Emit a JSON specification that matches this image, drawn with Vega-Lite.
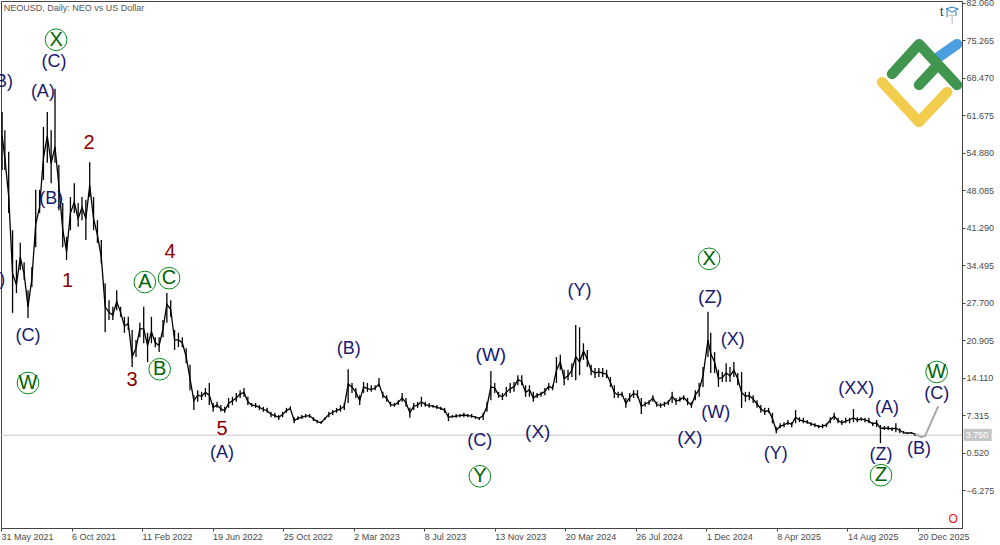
{
  "$schema": "https://vega.github.io/schema/vega-lite/v6.json",
  "width": 961,
  "height": 527,
  "autosize": "none",
  "padding": {"left": 1, "top": 1, "right": 38, "bottom": 17},
  "background": "white",
  "datasets": {
    "prices": [
      {"date":"2021-06-02","high":62.3,"low":51.8,"close":58},
      {"date":"2021-06-07","high":59,"low":51.8,"close":54},
      {"date":"2021-06-14","high":55.1,"low":44,"close":47},
      {"date":"2021-06-21","high":40.9,"low":25.9,"close":33},
      {"date":"2021-06-28","high":35.5,"low":29.5,"close":31},
      {"date":"2021-07-05","high":38.6,"low":33.7,"close":36},
      {"date":"2021-07-12","high":35.1,"low":31.9,"close":33},
      {"date":"2021-07-19","high":30,"low":25,"close":27},
      {"date":"2021-07-26","high":34.2,"low":30.6,"close":32},
      {"date":"2021-08-02","high":48.2,"low":37.8,"close":42},
      {"date":"2021-08-09","high":48.2,"low":44,"close":45},
      {"date":"2021-08-16","high":59.6,"low":50,"close":54},
      {"date":"2021-08-23","high":62.3,"low":53.1,"close":58},
      {"date":"2021-08-30","high":59,"low":49.4,"close":53},
      {"date":"2021-09-06","high":66.5,"low":53.1,"close":56},
      {"date":"2021-09-13","high":52.7,"low":44.5,"close":49},
      {"date":"2021-09-20","high":45.8,"low":37.8,"close":41},
      {"date":"2021-09-27","high":39.7,"low":35.5,"close":37},
      {"date":"2021-10-04","high":46.9,"low":40.9,"close":44},
      {"date":"2021-10-11","high":49.4,"low":44,"close":46},
      {"date":"2021-10-18","high":45.8,"low":41.5,"close":43},
      {"date":"2021-10-25","high":46.9,"low":42.7,"close":45},
      {"date":"2021-11-01","high":46.4,"low":39.1,"close":43},
      {"date":"2021-11-08","high":53.2,"low":46.9,"close":49},
      {"date":"2021-11-15","high":46.9,"low":40.9,"close":43},
      {"date":"2021-11-22","high":42.7,"low":38.6,"close":40},
      {"date":"2021-11-29","high":39.1,"low":34.9,"close":36},
      {"date":"2021-12-06","high":31.3,"low":22.4,"close":27},
      {"date":"2021-12-13","high":28.2,"low":24.6,"close":26},
      {"date":"2021-12-20","high":27,"low":24.6,"close":25.5},
      {"date":"2021-12-27","high":30,"low":26.4,"close":28},
      {"date":"2022-01-03","high":27,"low":25.2,"close":26},
      {"date":"2022-01-10","high":25.2,"low":22.3,"close":23.5},
      {"date":"2022-01-17","high":25.2,"low":22.8,"close":24},
      {"date":"2022-01-24","high":22.8,"low":16.1,"close":18},
      {"date":"2022-01-31","high":21,"low":17.9,"close":19.5},
      {"date":"2022-02-07","high":24.1,"low":21.5,"close":23},
      {"date":"2022-02-14","high":27,"low":20.4,"close":23},
      {"date":"2022-02-21","high":22.3,"low":17,"close":20},
      {"date":"2022-02-28","high":25.2,"low":20.4,"close":22.5},
      {"date":"2022-03-07","high":21.5,"low":19.7,"close":20.5},
      {"date":"2022-03-14","high":21.5,"low":18.8,"close":20},
      {"date":"2022-03-21","high":24.6,"low":21.5,"close":23},
      {"date":"2022-03-28","high":29.5,"low":24.1,"close":27.5},
      {"date":"2022-04-04","high":28.2,"low":25.2,"close":26.5},
      {"date":"2022-04-11","high":22.8,"low":19.2,"close":21},
      {"date":"2022-04-18","high":22.3,"low":19.7,"close":21},
      {"date":"2022-04-25","high":21.5,"low":19.7,"close":20.5},
      {"date":"2022-05-02","high":19.5,"low":16.8,"close":18},
      {"date":"2022-05-09","high":16.5,"low":11.9,"close":14},
      {"date":"2022-05-16","high":11,"low":8.3,"close":10},
      {"date":"2022-05-23","high":11.9,"low":9.8,"close":11},
      {"date":"2022-05-30","high":11.6,"low":10.1,"close":10.8},
      {"date":"2022-06-06","high":12.3,"low":10.7,"close":11.5},
      {"date":"2022-06-13","high":13.2,"low":9.2,"close":11},
      {"date":"2022-06-20","high":9.6,"low":8,"close":8.8},
      {"date":"2022-06-27","high":9.8,"low":8.7,"close":9.2},
      {"date":"2022-07-04","high":9.2,"low":8,"close":8.5},
      {"date":"2022-07-11","high":8.9,"low":7.8,"close":8.2},
      {"date":"2022-07-18","high":10.5,"low":8.7,"close":9.5},
      {"date":"2022-07-25","high":10.7,"low":9.2,"close":10},
      {"date":"2022-08-01","high":11.4,"low":9.8,"close":10.5},
      {"date":"2022-08-08","high":11.9,"low":10.5,"close":11.2},
      {"date":"2022-08-15","high":12.3,"low":10.7,"close":11.5},
      {"date":"2022-08-22","high":10.7,"low":9.2,"close":9.8},
      {"date":"2022-08-29","high":9.6,"low":8.9,"close":9.2},
      {"date":"2022-09-05","high":9.6,"low":8.7,"close":9.1},
      {"date":"2022-09-12","high":9.2,"low":8.3,"close":8.8},
      {"date":"2022-09-19","high":8.9,"low":8,"close":8.4},
      {"date":"2022-09-26","high":8.7,"low":7.8,"close":8.2},
      {"date":"2022-10-03","high":8,"low":7,"close":7.5},
      {"date":"2022-10-10","high":7.8,"low":6.9,"close":7.3},
      {"date":"2022-10-17","high":7.4,"low":6.5,"close":7},
      {"date":"2022-10-24","high":8,"low":7,"close":7.5},
      {"date":"2022-10-31","high":8.7,"low":7.8,"close":8.2},
      {"date":"2022-11-07","high":9,"low":8.3,"close":8.6},
      {"date":"2022-11-14","high":7,"low":5.9,"close":6.4},
      {"date":"2022-11-21","high":7.2,"low":6.5,"close":6.8},
      {"date":"2022-11-28","high":7.4,"low":6.7,"close":7},
      {"date":"2022-12-05","high":7.6,"low":6.9,"close":7.2},
      {"date":"2022-12-12","high":7.6,"low":6.9,"close":7.3},
      {"date":"2022-12-19","high":7,"low":6.3,"close":6.7},
      {"date":"2022-12-26","high":6.5,"low":5.9,"close":6.2},
      {"date":"2023-01-02","high":6.3,"low":5.8,"close":6},
      {"date":"2023-01-09","high":7,"low":6.5,"close":6.8},
      {"date":"2023-01-16","high":8,"low":7,"close":7.5},
      {"date":"2023-01-23","high":8.3,"low":7.4,"close":7.9},
      {"date":"2023-01-30","high":8.7,"low":7.8,"close":8.2},
      {"date":"2023-02-06","high":9.2,"low":8,"close":8.5},
      {"date":"2023-02-13","high":9.6,"low":8.3,"close":9},
      {"date":"2023-02-20","high":15.7,"low":9.6,"close":13},
      {"date":"2023-02-27","high":13.2,"low":11.4,"close":12.5},
      {"date":"2023-03-06","high":12.3,"low":10.5,"close":11.5},
      {"date":"2023-03-13","high":11,"low":9.2,"close":10},
      {"date":"2023-03-20","high":13.4,"low":11.4,"close":12.5},
      {"date":"2023-03-27","high":13.2,"low":11.6,"close":12.2},
      {"date":"2023-04-03","high":12.8,"low":11.6,"close":12},
      {"date":"2023-04-10","high":12.8,"low":11.9,"close":12.3},
      {"date":"2023-04-17","high":14.1,"low":12.5,"close":13},
      {"date":"2023-04-24","high":11.6,"low":10.5,"close":11},
      {"date":"2023-05-01","high":11,"low":9.8,"close":10.4},
      {"date":"2023-05-08","high":9.8,"low":8.9,"close":9.3},
      {"date":"2023-05-15","high":9.6,"low":8.9,"close":9.2},
      {"date":"2023-05-22","high":10.1,"low":9.2,"close":9.7},
      {"date":"2023-05-29","high":11.4,"low":9.8,"close":10.5},
      {"date":"2023-06-05","high":10.5,"low":8.9,"close":9.6},
      {"date":"2023-06-12","high":8.7,"low":6.9,"close":7.8},
      {"date":"2023-06-19","high":9.6,"low":8.3,"close":9},
      {"date":"2023-06-26","high":9.8,"low":8.7,"close":9.2},
      {"date":"2023-07-03","high":10.7,"low":8.9,"close":9.8},
      {"date":"2023-07-10","high":9.8,"low":8.9,"close":9.3},
      {"date":"2023-07-17","high":9.6,"low":8.7,"close":9.1},
      {"date":"2023-07-24","high":9.2,"low":8.7,"close":9},
      {"date":"2023-07-31","high":9.2,"low":8.5,"close":8.8},
      {"date":"2023-08-07","high":8.9,"low":8.3,"close":8.6},
      {"date":"2023-08-14","high":8.7,"low":7.8,"close":8.3},
      {"date":"2023-08-21","high":7.8,"low":6.3,"close":7},
      {"date":"2023-08-28","high":7.4,"low":6.9,"close":7.1},
      {"date":"2023-09-04","high":7.6,"low":6.9,"close":7.2},
      {"date":"2023-09-11","high":7.6,"low":7,"close":7.3},
      {"date":"2023-09-18","high":7.8,"low":7,"close":7.4},
      {"date":"2023-09-25","high":7.6,"low":7,"close":7.3},
      {"date":"2023-10-02","high":7.6,"low":6.9,"close":7.2},
      {"date":"2023-10-09","high":7.2,"low":6.7,"close":7},
      {"date":"2023-10-16","high":7,"low":6.5,"close":6.8},
      {"date":"2023-10-23","high":7.8,"low":6.5,"close":7.3},
      {"date":"2023-10-30","high":9.8,"low":8,"close":9},
      {"date":"2023-11-06","high":15.4,"low":10.1,"close":12.5},
      {"date":"2023-11-13","high":13.2,"low":11.4,"close":12.3},
      {"date":"2023-11-20","high":11.6,"low":10.5,"close":11},
      {"date":"2023-11-27","high":11.4,"low":10.1,"close":10.7},
      {"date":"2023-12-04","high":12.5,"low":10.7,"close":11.5},
      {"date":"2023-12-11","high":13.2,"low":11.4,"close":12.2},
      {"date":"2023-12-18","high":13.4,"low":11.6,"close":12.5},
      {"date":"2023-12-25","high":14.6,"low":12.8,"close":13.8},
      {"date":"2024-01-01","high":14.6,"low":12.8,"close":13.5},
      {"date":"2024-01-08","high":12.8,"low":10.7,"close":11.5},
      {"date":"2024-01-15","high":12.8,"low":10.7,"close":12},
      {"date":"2024-01-22","high":11.6,"low":9.8,"close":10.5},
      {"date":"2024-01-29","high":11.4,"low":10.5,"close":11},
      {"date":"2024-02-05","high":11.6,"low":10.7,"close":11.2},
      {"date":"2024-02-12","high":12.3,"low":11,"close":11.7},
      {"date":"2024-02-19","high":13.2,"low":11.9,"close":12.6},
      {"date":"2024-02-26","high":12.8,"low":11.9,"close":12.3},
      {"date":"2024-03-04","high":17.9,"low":13.2,"close":15.5},
      {"date":"2024-03-11","high":18.3,"low":15.6,"close":17},
      {"date":"2024-03-18","high":15.6,"low":12.8,"close":14},
      {"date":"2024-03-25","high":15.6,"low":13.7,"close":14.5},
      {"date":"2024-04-01","high":16.8,"low":14.3,"close":15.5},
      {"date":"2024-04-08","high":23.7,"low":13.7,"close":18},
      {"date":"2024-04-15","high":23.3,"low":14.6,"close":17},
      {"date":"2024-04-22","high":20.4,"low":17.4,"close":19},
      {"date":"2024-04-29","high":19.2,"low":16.1,"close":17.5},
      {"date":"2024-05-06","high":16.5,"low":14.6,"close":15.5},
      {"date":"2024-05-13","high":15.9,"low":14.1,"close":15},
      {"date":"2024-05-20","high":15.9,"low":14.3,"close":15.2},
      {"date":"2024-05-27","high":15.9,"low":14.3,"close":15},
      {"date":"2024-06-03","high":15.6,"low":14.1,"close":14.8},
      {"date":"2024-06-10","high":14.3,"low":12.5,"close":13.3},
      {"date":"2024-06-17","high":12.8,"low":10.5,"close":11.5},
      {"date":"2024-06-24","high":11.6,"low":10.5,"close":11},
      {"date":"2024-07-01","high":11.6,"low":10.7,"close":11.2},
      {"date":"2024-07-08","high":10.5,"low":8.7,"close":9.5},
      {"date":"2024-07-15","high":11.4,"low":9.8,"close":10.6},
      {"date":"2024-07-22","high":11.9,"low":10.5,"close":11.3},
      {"date":"2024-07-29","high":11.9,"low":10.5,"close":11},
      {"date":"2024-08-05","high":10.5,"low":7.6,"close":9},
      {"date":"2024-08-12","high":9.8,"low":8.9,"close":9.4},
      {"date":"2024-08-19","high":10.1,"low":9.2,"close":9.7},
      {"date":"2024-08-26","high":11,"low":9.8,"close":10.5},
      {"date":"2024-09-02","high":9.8,"low":8.9,"close":9.3},
      {"date":"2024-09-09","high":9.6,"low":8.7,"close":9.1},
      {"date":"2024-09-16","high":9.8,"low":8.9,"close":9.4},
      {"date":"2024-09-23","high":10.1,"low":9.2,"close":9.7},
      {"date":"2024-09-30","high":11.6,"low":9.6,"close":10.8},
      {"date":"2024-10-07","high":10.5,"low":9.2,"close":9.9},
      {"date":"2024-10-14","high":10.7,"low":9.8,"close":10.2},
      {"date":"2024-10-21","high":11,"low":10.1,"close":10.6},
      {"date":"2024-10-28","high":10.5,"low":9.2,"close":9.8},
      {"date":"2024-11-04","high":9.8,"low":8.7,"close":9.2},
      {"date":"2024-11-11","high":11.9,"low":10.1,"close":11},
      {"date":"2024-11-18","high":13.2,"low":10.7,"close":12},
      {"date":"2024-11-25","high":16.1,"low":12.5,"close":14.5},
      {"date":"2024-12-04","high":26.1,"low":17.9,"close":21},
      {"date":"2024-12-09","high":22.3,"low":15,"close":18.5},
      {"date":"2024-12-16","high":18.8,"low":15,"close":17},
      {"date":"2024-12-23","high":15.6,"low":12.5,"close":14},
      {"date":"2024-12-30","high":15.2,"low":13.4,"close":14.2},
      {"date":"2025-01-06","high":16.8,"low":13.4,"close":15},
      {"date":"2025-01-13","high":16.1,"low":13.4,"close":14.5},
      {"date":"2025-01-20","high":17,"low":14.3,"close":15.5},
      {"date":"2025-01-27","high":15,"low":12.8,"close":14},
      {"date":"2025-02-03","high":15.2,"low":8.7,"close":11.5},
      {"date":"2025-02-10","high":11.6,"low":9.8,"close":10.8},
      {"date":"2025-02-17","high":11.6,"low":10.1,"close":10.9},
      {"date":"2025-02-24","high":11,"low":9.6,"close":10.3},
      {"date":"2025-03-03","high":10.1,"low":8.7,"close":9.4},
      {"date":"2025-03-10","high":9.2,"low":7.8,"close":8.5},
      {"date":"2025-03-17","high":8.7,"low":7.4,"close":8},
      {"date":"2025-03-24","high":8.7,"low":7.8,"close":8.2},
      {"date":"2025-03-31","high":7.8,"low":5.9,"close":6.8},
      {"date":"2025-04-07","high":5.2,"low":4.1,"close":4.6},
      {"date":"2025-04-14","high":5.9,"low":5,"close":5.4},
      {"date":"2025-04-21","high":6.1,"low":5.2,"close":5.6},
      {"date":"2025-04-28","high":6.5,"low":5.6,"close":6},
      {"date":"2025-05-05","high":6.1,"low":5.2,"close":5.7},
      {"date":"2025-05-12","high":8.3,"low":5.9,"close":7},
      {"date":"2025-05-19","high":7,"low":6.1,"close":6.5},
      {"date":"2025-05-26","high":6.9,"low":5.9,"close":6.3},
      {"date":"2025-06-02","high":6.5,"low":5.8,"close":6.1},
      {"date":"2025-06-09","high":6.1,"low":5.4,"close":5.8},
      {"date":"2025-06-16","high":5.9,"low":5.2,"close":5.6},
      {"date":"2025-06-23","high":5.6,"low":5,"close":5.3},
      {"date":"2025-06-30","high":5.8,"low":5,"close":5.4},
      {"date":"2025-07-07","high":5.9,"low":5.2,"close":5.6},
      {"date":"2025-07-14","high":7,"low":5.9,"close":6.5},
      {"date":"2025-07-21","high":7.8,"low":6.5,"close":7.2},
      {"date":"2025-07-28","high":6.9,"low":5.9,"close":6.4},
      {"date":"2025-08-04","high":6.5,"low":5.6,"close":6},
      {"date":"2025-08-11","high":6.9,"low":5.9,"close":6.3},
      {"date":"2025-08-18","high":6.9,"low":5.9,"close":6.5},
      {"date":"2025-08-25","high":8.5,"low":6.1,"close":6.9},
      {"date":"2025-09-01","high":7,"low":6.1,"close":6.5},
      {"date":"2025-09-08","high":7,"low":6.3,"close":6.7},
      {"date":"2025-09-15","high":6.9,"low":6.1,"close":6.5},
      {"date":"2025-09-22","high":6.9,"low":5.9,"close":6.3},
      {"date":"2025-09-29","high":6.1,"low":5.4,"close":5.8},
      {"date":"2025-10-06","high":6.5,"low":5.2,"close":6},
      {"date":"2025-10-13","high":5.6,"low":2.3,"close":5},
      {"date":"2025-10-20","high":5.4,"low":4.7,"close":5},
      {"date":"2025-10-27","high":5.4,"low":4.7,"close":5},
      {"date":"2025-11-03","high":5.2,"low":4.5,"close":4.9},
      {"date":"2025-11-10","high":5.9,"low":4.3,"close":5},
      {"date":"2025-11-17","high":5,"low":4.1,"close":4.6},
      {"date":"2025-11-24","high":4.5,"low":4,"close":4.2},
      {"date":"2025-12-01","high":4.3,"low":4,"close":4.1},
      {"date":"2025-12-08","high":4.3,"low":4,"close":4.2},
      {"date":"2025-12-15","high":4.1,"low":3.6,"close":3.9}
    ],
    "forecast": [
      {"date":"2025-12-15","price":4},
      {"date":"2025-12-26","price":3.4},
      {"date":"2026-01-02","price":3.6},
      {"date":"2026-01-26","price":9}
    ],
    "waves": [
      {"date":"2021-09-04","price":71.4,"label":"(C)","degree":"minor"},
      {"date":"2021-08-15","price":65.9,"label":"(A)","degree":"minor"},
      {"date":"2021-05-31","price":67.7,"label":"(B)","degree":"minor"},
      {"date":"2021-05-17","price":31.9,"label":"(A)","degree":"minor"},
      {"date":"2021-08-30","price":46.5,"label":"(B)","degree":"minor"},
      {"date":"2021-07-19","price":21.7,"label":"(C)","degree":"minor"},
      {"date":"2022-07-06","price":0.5,"label":"(A)","degree":"minor"},
      {"date":"2023-02-21","price":19.4,"label":"(B)","degree":"minor"},
      {"date":"2023-10-17","price":2.7,"label":"(C)","degree":"minor"},
      {"date":"2023-11-06","price":18.3,"label":"(W)","degree":"major"},
      {"date":"2024-01-30","price":4.3,"label":"(X)","degree":"major"},
      {"date":"2024-04-15","price":29.9,"label":"(Y)","degree":"minor"},
      {"date":"2024-11-01","price":3.2,"label":"(X)","degree":"major"},
      {"date":"2024-12-08","price":28.8,"label":"(Z)","degree":"major"},
      {"date":"2024-12-18","price":7.8,"label":"(W)","degree":"minor"},
      {"date":"2025-01-18","price":21,"label":"(X)","degree":"minor"},
      {"date":"2025-04-06","price":0.3,"label":"(Y)","degree":"minor"},
      {"date":"2025-08-30","price":12.1,"label":"(XX)","degree":"minor"},
      {"date":"2025-10-25","price":8.7,"label":"(A)","degree":"minor"},
      {"date":"2025-10-14","price":0.2,"label":"(Z)","degree":"minor"},
      {"date":"2025-12-22","price":1.2,"label":"(B)","degree":"minor"},
      {"date":"2026-01-23","price":11.2,"label":"(C)","degree":"minor"},
      {"date":"2021-09-29","price":31.7,"label":"1","degree":"impulse"},
      {"date":"2021-11-07","price":56.7,"label":"2","degree":"impulse"},
      {"date":"2022-01-24","price":13.7,"label":"3","degree":"impulse"},
      {"date":"2022-04-03","price":36.9,"label":"4","degree":"impulse"},
      {"date":"2022-07-06","price":4.9,"label":"5","degree":"impulse"}
    ],
    "circled": [
      {"date":"2021-09-08","price":75.4,"label":"X"},
      {"date":"2021-07-19","price":13.2,"label":"W"},
      {"date":"2022-02-16","price":31.5,"label":"A"},
      {"date":"2022-04-01","price":32.2,"label":"C"},
      {"date":"2022-03-15","price":15.7,"label":"B"},
      {"date":"2023-10-17","price":-3.7,"label":"Y"},
      {"date":"2024-12-06","price":35.7,"label":"X"},
      {"date":"2025-10-14","price":-3.5,"label":"Z"},
      {"date":"2026-01-23","price":15.2,"label":"W"}
    ],
    "logo": [
      {"date":"2025-10-16","price":67.7,"part":"yellow","colour":"yellow"},
      {"date":"2025-12-22","price":60.5,"part":"yellow","colour":"yellow"},
      {"date":"2026-02-11","price":65.9,"part":"yellow","colour":"yellow"},
      {"date":"2026-01-27","price":72.3,"part":"blue","colour":"blue"},
      {"date":"2026-03-01","price":74.6,"part":"blue","colour":"blue"},
      {"date":"2025-11-03","price":69.2,"part":"roof","colour":"green"},
      {"date":"2025-12-22","price":74.6,"part":"roof","colour":"green"},
      {"date":"2026-03-01","price":67.2,"part":"roof","colour":"green"},
      {"date":"2025-12-22","price":67.2,"part":"bar","colour":"green"},
      {"date":"2026-01-20","price":70.3,"part":"bar","colour":"green"}
    ],
    "cap": [
      {"date":"2026-02-09","price":81,"seq":1,"part":"board"},
      {"date":"2026-02-20","price":81.3,"seq":2,"part":"board"},
      {"date":"2026-03-03","price":81,"seq":3,"part":"board"},
      {"date":"2026-02-20","price":80.4,"seq":4,"part":"board"},
      {"date":"2026-02-09","price":81,"seq":5,"part":"board"},
      {"date":"2026-02-11","price":80.7,"seq":1,"part":"strap"},
      {"date":"2026-02-11","price":79.5,"seq":2,"part":"strap"},
      {"date":"2026-02-27","price":80.6,"seq":1,"part":"side"},
      {"date":"2026-02-27","price":79.7,"seq":2,"part":"side"}
    ],
    "notes": [
      {"date":"2021-06-05","price":81.1,"label":"NEOUSD, Daily:  NEO vs US Dollar","kind":"title"},
      {"date":"2026-02-01","price":80.4,"label":"t","kind":"tool"},
      {"date":"2026-02-20","price":79,"label":"T","kind":"box"},
      {"date":"2026-02-22","price":-11.4,"label":"O","kind":"alert"}
    ],
    "last": [
      {"date":"2026-03-13","end":"2026-05-03","top":4.9,"bottom":2.7,"price":3.75,"label":"3.750"}
    ]
  },
  "layer": [
    {
      "data": {"name": "last"},
      "mark": {"type": "rule", "color": "#c6c6c6", "strokeWidth": 1},
      "encoding": {
        "y": {
          "field": "price",
          "type": "quantitative",
          "title": null,
          "scale": {"domain": [-13.07, 82.42], "nice": false, "zero": false},
          "axis": {
            "orient": "right",
            "values": [82.06, 75.265, 68.47, 61.675, 54.88, 48.085, 41.29, 34.495, 27.7, 20.905, 14.11, 7.315, 0.52, -6.275],
            "format": ".3f",
            "grid": false,
            "labelFlush": false,
            "labelBound": false,
            "labelOverlap": false,
            "tickSize": 3,
            "labelPadding": 1,
            "labelAlign": "left",
            "labelFontSize": 9,
            "labelColor": "#4a4a4a",
            "domainColor": "#444444",
            "tickColor": "#444444"
          }
        }
      }
    },
    {
      "data": {"name": "prices"},
      "layer": [
        {
          "mark": {"type": "rule", "color": "#000000", "strokeWidth": 1.3},
          "encoding": {
            "x": {
              "field": "date",
              "type": "temporal",
              "title": null,
              "scale": {"domain": [{"year": 2021, "month": 5, "date": 31}, {"year": 2026, "month": 3, "date": 10}], "nice": false},
              "axis": {
                "values": [
                  {"year": 2021, "month": 5, "date": 31},
                  {"year": 2021, "month": 10, "date": 6},
                  {"year": 2022, "month": 2, "date": 11},
                  {"year": 2022, "month": 6, "date": 19},
                  {"year": 2022, "month": 10, "date": 25},
                  {"year": 2023, "month": 3, "date": 2},
                  {"year": 2023, "month": 7, "date": 8},
                  {"year": 2023, "month": 11, "date": 13},
                  {"year": 2024, "month": 3, "date": 20},
                  {"year": 2024, "month": 7, "date": 26},
                  {"year": 2024, "month": 12, "date": 1},
                  {"year": 2025, "month": 4, "date": 8},
                  {"year": 2025, "month": 8, "date": 14},
                  {"year": 2025, "month": 12, "date": 20}
                ],
                "format": "%-d %b %Y",
                "grid": false,
                "labelFlush": false,
                "labelBound": false,
                "labelOverlap": false,
                "labelAngle": 0,
                "labelAlign": "left",
                "tickSize": 3,
                "labelPadding": 1,
                "labelFontSize": 9,
                "labelColor": "#4a4a4a",
                "domainColor": "#444444",
                "tickColor": "#444444"
              }
            },
            "y": {"field": "low", "type": "quantitative"},
            "y2": {"field": "high"}
          }
        },
        {
          "mark": {"type": "line", "color": "#000000", "strokeWidth": 1.3},
          "encoding": {
            "x": {"field": "date", "type": "temporal"},
            "y": {"field": "close", "type": "quantitative"}
          }
        }
      ]
    },
    {
      "data": {"name": "forecast"},
      "mark": {"type": "line", "color": "#a9a9a9", "strokeWidth": 2},
      "encoding": {
        "x": {"field": "date", "type": "temporal"},
        "y": {"field": "price", "type": "quantitative"}
      }
    },
    {
      "data": {"name": "logo"},
      "mark": {"type": "line", "strokeWidth": 10.5, "strokeCap": "round", "strokeJoin": "round"},
      "encoding": {
        "x": {"field": "date", "type": "temporal"},
        "y": {"field": "price", "type": "quantitative"},
        "detail": {"field": "part"},
        "color": {
          "field": "colour",
          "legend": null,
          "scale": {"domain": ["yellow", "blue", "green"], "range": ["#f2cc4d", "#4a9fe0", "#41964f"]}
        }
      }
    },
    {
      "data": {"name": "cap"},
      "mark": {"type": "line", "color": "#1e78c2", "strokeWidth": 1},
      "encoding": {
        "x": {"field": "date", "type": "temporal"},
        "y": {"field": "price", "type": "quantitative"},
        "detail": {"field": "part"},
        "order": {"field": "seq"}
      }
    },
    {
      "data": {"name": "waves"},
      "mark": {"type": "text", "baseline": "middle", "font": "Liberation Sans"},
      "encoding": {
        "x": {"field": "date", "type": "temporal"},
        "y": {"field": "price", "type": "quantitative"},
        "text": {"field": "label"},
        "color": {
          "field": "degree",
          "legend": null,
          "scale": {"domain": ["minor", "major", "impulse"], "range": ["#191970", "#191970", "#8b0000"]}
        },
        "size": {
          "field": "degree",
          "type": "ordinal",
          "legend": null,
          "scale": {"domain": ["minor", "major", "impulse"], "range": [18, 20, 18]}
        }
      }
    },
    {
      "data": {"name": "circled"},
      "mark": {"type": "point", "shape": "circle", "size": 470, "filled": false, "color": "#0a8a1e", "strokeWidth": 1, "opacity": 1},
      "encoding": {
        "x": {"field": "date", "type": "temporal"},
        "y": {"field": "price", "type": "quantitative"}
      }
    },
    {
      "data": {"name": "circled"},
      "mark": {"type": "text", "baseline": "middle", "font": "Liberation Sans", "fontSize": 20, "color": "#006400"},
      "encoding": {
        "x": {"field": "date", "type": "temporal"},
        "y": {"field": "price", "type": "quantitative"},
        "text": {"field": "label"}
      }
    },
    {
      "data": {"name": "notes"},
      "transform": [{"filter": "datum.kind == 'title'"}],
      "mark": {"type": "text", "align": "left", "baseline": "middle", "fontSize": 9, "color": "#555555"},
      "encoding": {
        "x": {"field": "date", "type": "temporal"},
        "y": {"field": "price", "type": "quantitative"},
        "text": {"field": "label"}
      }
    },
    {
      "data": {"name": "notes"},
      "transform": [{"filter": "datum.kind != 'title'"}],
      "mark": {"type": "text", "baseline": "middle", "fontSize": 12},
      "encoding": {
        "x": {"field": "date", "type": "temporal"},
        "y": {"field": "price", "type": "quantitative"},
        "text": {"field": "label"},
        "color": {
          "field": "kind",
          "legend": null,
          "scale": {"domain": ["tool", "box", "alert"], "range": ["#333333", "#c4c4c4", "#f01010"]}
        }
      }
    },
    {
      "data": {"name": "last"},
      "mark": {"type": "rect", "color": "#c6c6c6"},
      "encoding": {
        "x": {"field": "date", "type": "temporal"},
        "x2": {"field": "end"},
        "y": {"field": "top", "type": "quantitative"},
        "y2": {"field": "bottom"}
      }
    },
    {
      "data": {"name": "last"},
      "mark": {"type": "text", "align": "left", "baseline": "middle", "dx": 2, "fontSize": 9, "color": "#ffffff"},
      "encoding": {
        "x": {"field": "date", "type": "temporal"},
        "y": {"field": "price", "type": "quantitative"},
        "text": {"field": "label"}
      }
    }
  ],
  "resolve": {"scale": {"color": "independent", "size": "independent"}},
  "config": {
    "view": {"stroke": "#444444"},
    "font": "Liberation Sans",
    "axis": {"labelFont": "Liberation Sans"}
  }
}
